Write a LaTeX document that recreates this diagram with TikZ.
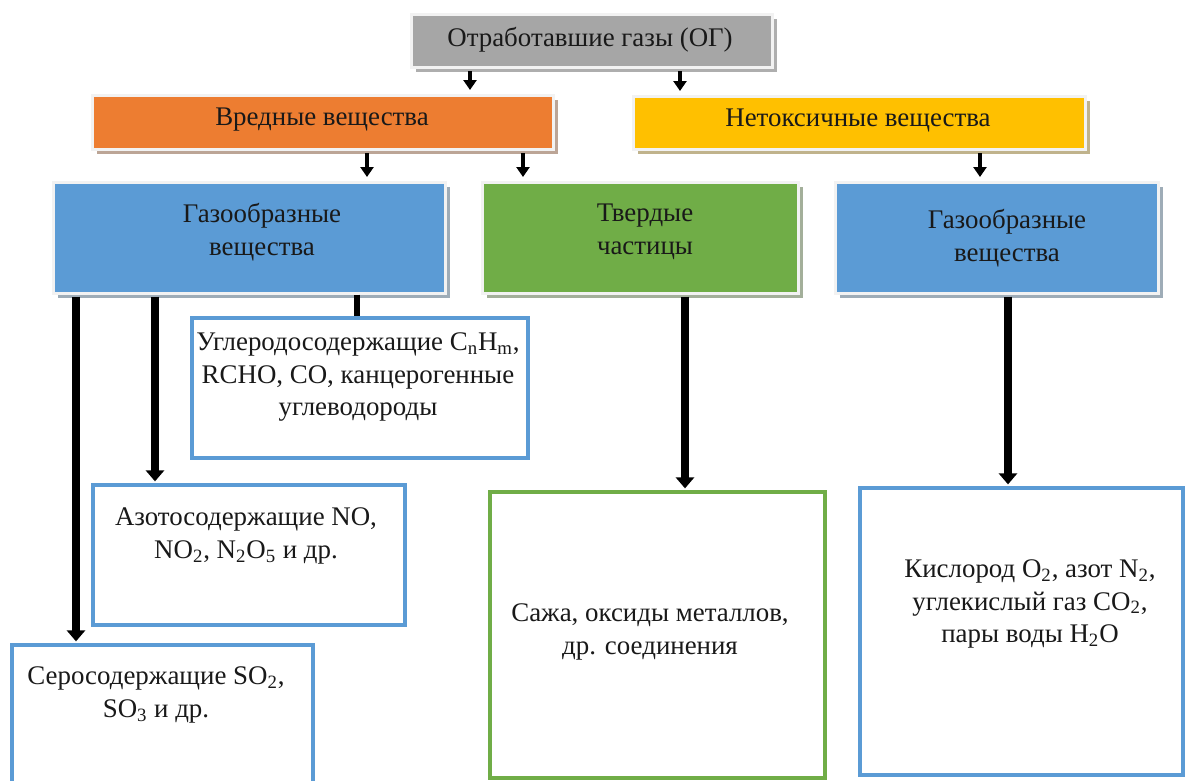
\documentclass[tikz,border=0pt]{standalone}
\usepackage{fontspec}
\setmainfont{Liberation Serif}
\usepackage{tikz}
\usetikzlibrary{shadows}
\usetikzlibrary{arrows.meta}
\definecolor{gg}{RGB}{166,166,166}
\definecolor{oo}{RGB}{237,125,49}
\definecolor{yy}{RGB}{255,192,0}
\definecolor{bb}{RGB}{91,155,213}
\definecolor{vv}{RGB}{112,173,71}
\def\pxl#1{#1*0.2mm}

\tikzset{
  fillbox/.style={rectangle, fill=#1, draw=black!5, line width=0.6mm, inner sep=0pt,
    drop shadow={shadow xshift=0.9mm, shadow yshift=-0.9mm, fill=#1!45!black, opacity=0.45}},
  linebox/.style={rectangle, fill=white, draw=#1, line width=0.65mm, inner sep=0pt},
  txt/.style={align=center, inner sep=0pt, text=black!90, font=\fontsize{15.3}{18.6}\selectfont},
  smallarr/.style={line width=0.7mm, -{Triangle[width=2.6mm,length=2mm]}, shorten <=0.5mm, shorten >=0.7mm},
  bigarr/.style={line width=1.6mm, -{Triangle[width=3.6mm,length=2.2mm]}, shorten <=0.4mm, shorten >=0.4mm}
}

\begin{document}
\begin{tikzpicture}[x=0.2mm,y=-0.2mm]
\useasboundingbox (0,0) rectangle (1195,780);
% coloured blocks
\node[fillbox=gg, minimum width=\pxl{361}, minimum height=\pxl{53}] (og) at (591.5,40.5) {};
\node[fillbox=oo, minimum width=\pxl{461}, minimum height=\pxl{54}] (harm) at (322.5,122) {};
\node[fillbox=yy, minimum width=\pxl{452}, minimum height=\pxl{53}] (ntx) at (859,122.5) {};
\node[fillbox=bb, minimum width=\pxl{392}, minimum height=\pxl{111}] (gasL) at (249,237.5) {};
\node[fillbox=vv, minimum width=\pxl{316}, minimum height=\pxl{111}] (solid) at (640,237.5) {};
\node[fillbox=bb, minimum width=\pxl{323}, minimum height=\pxl{111}] (gasR) at (996.5,237.5) {};
\node[txt] (ogt) at (590,40) {Отработавшие газы (ОГ)};
\node[txt] (harmt) at (322,120) {Вредные вещества};
\node[txt] (ntxt) at (858,120) {Нетоксичные вещества};
\node[txt] (gasLt) at (262,232) {Газообразные\\вещества};
\node[txt] (solidt) at (645,232) {Твердые\\частицы};
\node[txt] (gasRt) at (1007,238) {Газообразные\\вещества};

% white boxes
\node[linebox=bb, minimum width=\pxl{336}, minimum height=\pxl{140}] (carb) at (360,388) {};
\node[linebox=bb, minimum width=\pxl{312}, minimum height=\pxl{140}] (nitro) at (249,555) {};
\node[linebox=bb, minimum width=\pxl{301}, minimum height=\pxl{145}] (sulf) at (162.5,717.5) {};
\node[linebox=vv, minimum width=\pxl{335}, minimum height=\pxl{286}] (soot) at (657.5,635) {};
\node[linebox=bb, minimum width=\pxl{323}, minimum height=\pxl{287}] (air) at (1021.5,631.5) {};
\node[txt] (carbt) at (358,377) {Углеродосодержащие C\textsubscript{n}H\textsubscript{m},\\RCHO, CO, канцерогенные\\углеводороды};
\node[txt] (nitrot) at (246,536) {Азотосодержащие NO,\\NO\textsubscript{2}, N\textsubscript{2}O\textsubscript{5} и др.};
\node[txt] (sulft) at (156,695) {Серосодержащие SO\textsubscript{2},\\SO\textsubscript{3} и др.};
\node[txt] (soott) at (650,632) {Сажа, оксиды металлов,\\др. соединения};
\node[txt] (airt) at (1030,604) {Кислород O\textsubscript{2}, азот N\textsubscript{2},\\углекислый газ CO\textsubscript{2},\\пары воды H\textsubscript{2}O};

% arrows
\foreach \x/\a/\b in {470/og/harm, 680/og/ntx, 367/harm/gasL, 523/harm/solid, 980/ntx/gasR}{
  \coordinate (c) at (\x,0);
  \draw[smallarr] (\a.south -| c) -- (\b.north -| c);
}
\foreach \x/\a/\b in {76/gasL/sulf, 155/gasL/nitro, 685/solid/soot, 1008/gasR/air}{
  \coordinate (c) at (\x,0);
  \draw[bigarr] (\a.south -| c) -- (\b.north -| c);
}
\coordinate (c) at (357,0);
\draw[line width=1.2mm] (gasL.south -| c) -- (carb.north -| c);
\end{tikzpicture}
\end{document}
